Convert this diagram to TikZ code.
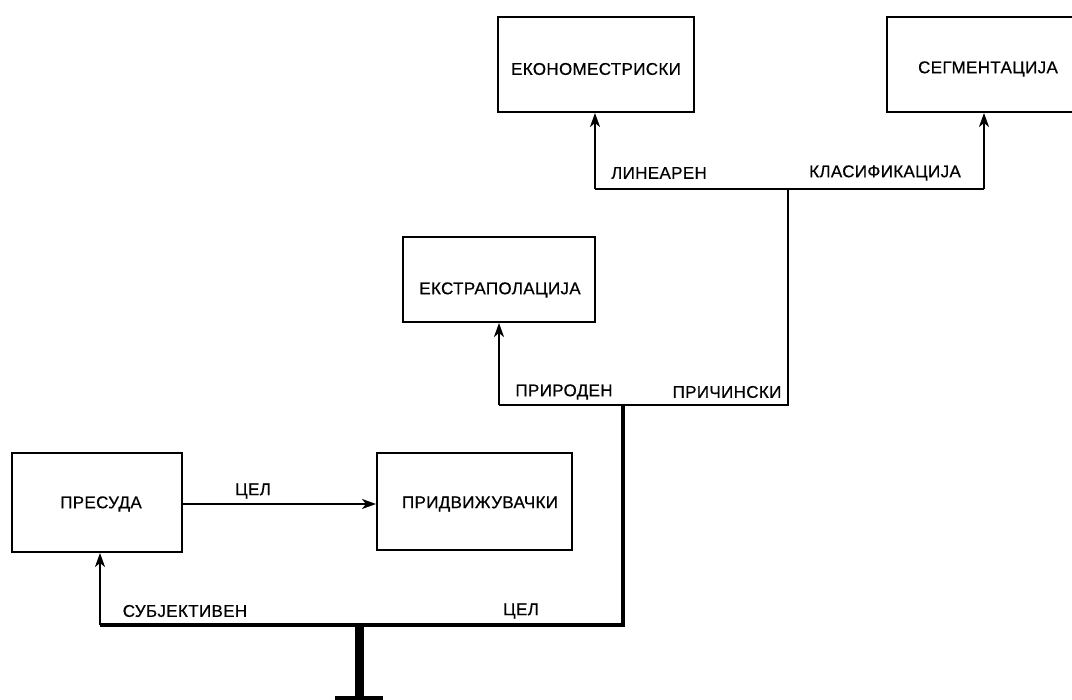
\documentclass[tikz,border=0pt]{standalone}
\usepackage{fontspec}
\setmainfont{Liberation Sans}[LetterSpace=2,FakeBold=0.6]
\usetikzlibrary{arrows.meta}
\begin{document}
\begin{tikzpicture}[x=1pt,y=-1pt,
  boxnode/.style={draw,line width=2pt,minimum width=#1,inner sep=0pt},
  lbl/.style={font=\fontsize{17}{17}\selectfont,inner sep=0pt,anchor=center},
  thin/.style={line width=2.2pt},
  mid/.style={line width=2.6pt},
  thick/.style={line width=4.8pt},
  arr/.style={-{Stealth[length=14pt,width=10pt,inset=4pt]}}]
\useasboundingbox (0,0) rectangle (1072,700);
% boxes
\node[boxnode=196pt,minimum height=95pt] (eko) at (596,64.5) {};
\node[boxnode=202pt,minimum height=95pt] (seg) at (988,64.5) {};
\node[boxnode=192pt,minimum height=85pt] (ext) at (499,279.5) {};
\node[boxnode=170pt,minimum height=99pt] (pre) at (97,502.5) {};
\node[boxnode=195pt,minimum height=97pt] (pri) at (474.5,501.5) {};
% box texts
\node[lbl] (teko) at (596,69) {ЕКОНОМЕСТРИСКИ};
\node[lbl] (tseg) at (988,69) {СЕГМЕНТАЦИЈА};
\node[lbl] (text) at (500,290) {ЕКСТРАПОЛАЦИЈА};
\node[lbl] (tpre) at (101,504) {ПРЕСУДА};
\node[lbl] (tpri) at (480,504) {ПРИДВИЖУВАЧКИ};
% junction coordinates
\coordinate (t1l) at (595,189);
\coordinate (t1r) at (984,189);
\coordinate (t1s) at (788,189);
\coordinate (t2l) at (499,405);
\coordinate (t2r) at (788,405);
\coordinate (t2s) at (623,405);
\coordinate (t3l) at (100,625);
\coordinate (t3r) at (623,625);
\coordinate (t3s) at (359,625);
\coordinate (root) at (359,699);
\coordinate (basel) at (335,700);
\coordinate (baser) at (383,700);
% top tree
\draw[thin] (t1l) -- (t1r);
\draw[thin,arr] (t1l) -- (t1l |- eko.south);
\draw[thin,arr] (t1r) -- (t1r |- seg.south);
% middle tree
\draw[mid] (t1s) -- (t2r) -- (t2l);
\draw[thin,arr] (t2l) -- (t2l |- ext.south);
% bottom tree
\draw[thick] (t2s) -- (t3r) -- (t3l);
\draw[thin,arr] (t3l) -- (t3l |- pre.south);
\draw[line width=9pt] (t3s) -- (root);
\draw[line width=8pt] (basel) -- (baser);
% side arrow
\draw[thin,arr] (pre.east |- tpre) -- (pri.west |- tpre);
% labels
\node[lbl] (l1) at (659,173) {ЛИНЕАРЕН};
\node[lbl] (l2) at (885,173) {КЛАСИФИКАЦИЈА};
\node[lbl] (l3) at (564,392) {ПРИРОДЕН};
\node[lbl] (l4) at (727,392) {ПРИЧИНСКИ};
\node[lbl] (l5) at (185,611) {СУБЈЕКТИВЕН};
\node[lbl] (l6) at (521,611) {ЦЕЛ};
\node[lbl] (l7) at (253,491) {ЦЕЛ};
\end{tikzpicture}
\end{document}
